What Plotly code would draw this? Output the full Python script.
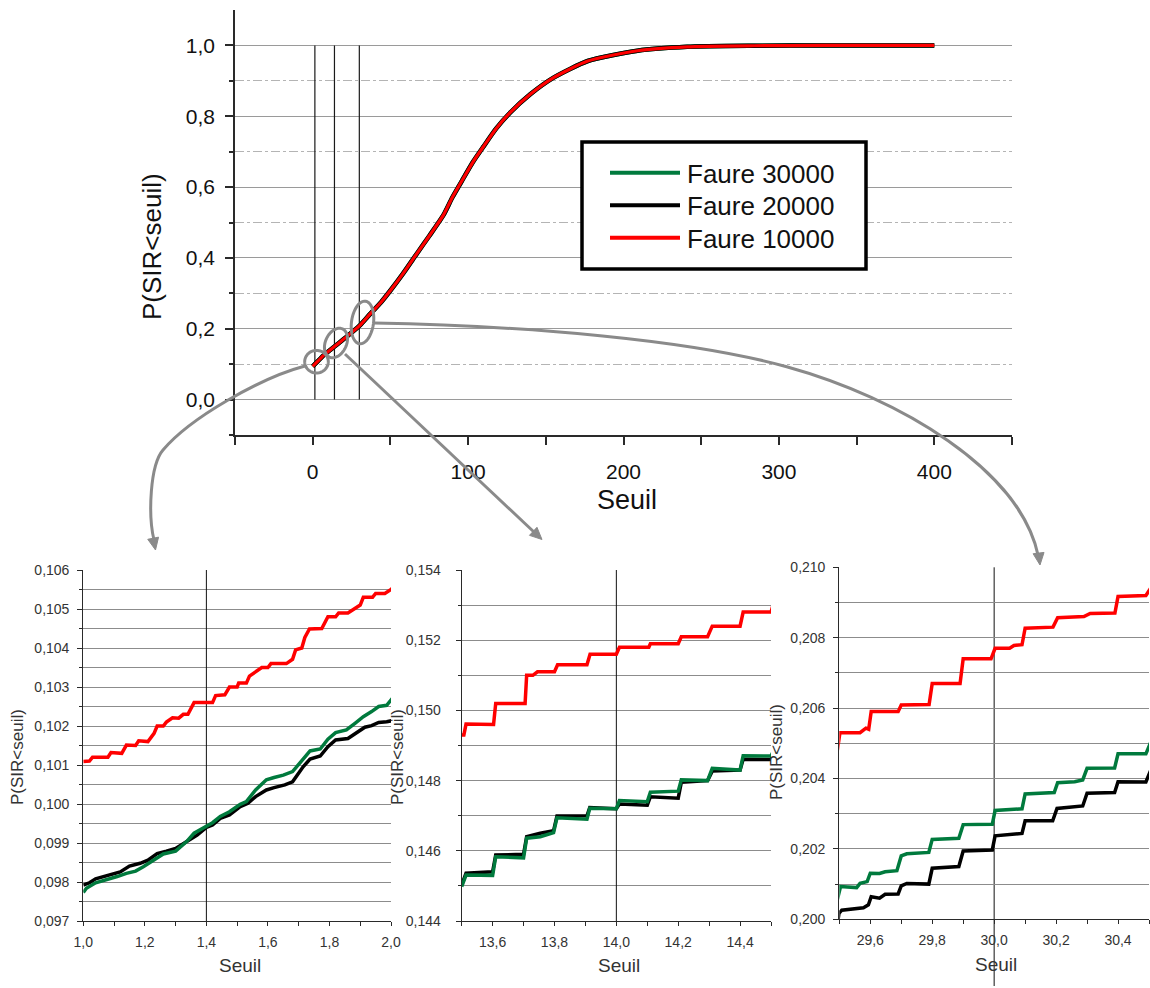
import math
import plotly.graph_objects as go

W, H = 1150, 988
FONT = "Liberation Sans, Arial, sans-serif"

# ---------------- data ----------------
series_names = ["Faure 30000", "Faure 20000", "Faure 10000"]
series_colors = ["#007A3D", "#000000", "#FF0000"]

# main chart (the three curves overlap at this scale)
main_seuil = [0, 1.4, 7, 14, 22, 30, 37, 44, 50, 58, 67, 75, 84, 90, 97, 103,
              110, 118, 127, 140, 155, 177, 209, 241, 284, 330, 400]
main_p = [0.094, 0.100, 0.125, 0.150, 0.178, 0.208, 0.242, 0.275, 0.308, 0.355,
          0.412, 0.462, 0.520, 0.572, 0.625, 0.670, 0.715, 0.765, 0.810, 0.862,
          0.909, 0.956, 0.985, 0.996, 0.999, 1.000, 1.000]
main_vlines = [1.4, 14.0, 30.0]

# zoom panel 1 : Seuil 1.0 - 2.0
p1_red = [(1.0, 0.10109), (1.02, 0.1011), (1.03, 0.1012), (1.08, 0.1012), (1.09, 0.10132),
          (1.125, 0.1013), (1.14, 0.10151), (1.17, 0.1015), (1.18, 0.10162), (1.21, 0.1016),
          (1.23, 0.10181), (1.24, 0.1020), (1.26, 0.1020), (1.27, 0.1021), (1.29, 0.10221),
          (1.31, 0.1022), (1.325, 0.1023), (1.34, 0.1023), (1.36, 0.1026), (1.42, 0.1026),
          (1.43, 0.10278), (1.46, 0.1028), (1.475, 0.1030), (1.50, 0.1030), (1.505, 0.1031),
          (1.53, 0.1031), (1.54, 0.10328), (1.56, 0.1034), (1.58, 0.1035), (1.60, 0.1035),
          (1.61, 0.1036), (1.66, 0.1036), (1.68, 0.10371), (1.69, 0.10395), (1.71, 0.1040),
          (1.72, 0.10427), (1.735, 0.10449), (1.775, 0.1045), (1.795, 0.1048), (1.82, 0.1048),
          (1.83, 0.1049), (1.86, 0.1049), (1.88, 0.1050), (1.90, 0.1051), (1.91, 0.1053),
          (1.94, 0.1053), (1.95, 0.1054), (1.98, 0.1054), (2.0, 0.1055), (2.013, 0.1056)]
p1_green = [(1.0, 0.09773), (1.01, 0.09784), (1.04, 0.09798), (1.075, 0.09805), (1.11, 0.09814),
            (1.14, 0.09822), (1.17, 0.09828), (1.195, 0.09839), (1.23, 0.09858), (1.26, 0.09872),
            (1.30, 0.09879), (1.335, 0.09903), (1.36, 0.09925), (1.39, 0.09938), (1.42, 0.09952),
            (1.445, 0.09968), (1.475, 0.09980), (1.51, 0.09999), (1.53, 0.10006), (1.56, 0.10036),
            (1.595, 0.10062), (1.62, 0.10068), (1.65, 0.10074), (1.68, 0.10083), (1.715, 0.10117),
            (1.737, 0.10136), (1.77, 0.10141), (1.795, 0.10166), (1.82, 0.10183), (1.855, 0.10190),
            (1.883, 0.10207), (1.91, 0.10224), (1.937, 0.10237), (1.96, 0.10250), (1.986, 0.10253),
            (2.013, 0.10279)]
p1_black = [(1.0, 0.09792), (1.02, 0.09798), (1.04, 0.09808), (1.085, 0.09818), (1.12, 0.09826),
            (1.15, 0.09841), (1.185, 0.09848), (1.21, 0.09856), (1.24, 0.09873), (1.27, 0.09879),
            (1.30, 0.09886), (1.335, 0.09903), (1.37, 0.09920), (1.40, 0.09940), (1.42, 0.09946),
            (1.445, 0.09963), (1.475, 0.09972), (1.51, 0.09993), (1.535, 0.10002), (1.56, 0.10019),
            (1.595, 0.10036), (1.62, 0.10042), (1.655, 0.10049), (1.68, 0.10057), (1.715, 0.10096),
            (1.737, 0.10115), (1.77, 0.10123), (1.795, 0.10147), (1.82, 0.10164), (1.86, 0.10168),
            (1.888, 0.10183), (1.915, 0.10197), (1.937, 0.10201), (1.96, 0.10209), (1.986, 0.10211),
            (2.013, 0.10215)]

# zoom panel 2 : Seuil 13.5 - 14.5
p2_red = [(13.5, 0.1493), (13.507, 0.1493), (13.514, 0.14961), (13.603, 0.1496), (13.61, 0.1502),
          (13.705, 0.1502), (13.71, 0.1510), (13.73, 0.1510), (13.745, 0.1511), (13.80, 0.1511),
          (13.81, 0.1513), (13.905, 0.1513), (13.915, 0.1516), (14.0, 0.1516), (14.01, 0.1518),
          (14.105, 0.1518), (14.11, 0.1519), (14.2, 0.1519), (14.21, 0.1521), (14.295, 0.1521),
          (14.31, 0.1524), (14.40, 0.1524), (14.41, 0.1528), (14.5, 0.1528), (14.513, 0.1532)]
p2_green = [(13.5, 0.14498), (13.514, 0.14531), (13.6, 0.1453), (13.61, 0.14583), (13.70, 0.1458),
            (13.71, 0.14636), (13.754, 0.1464), (13.797, 0.14652), (13.808, 0.14694), (13.905, 0.1469),
            (13.914, 0.14721), (14.0, 0.1472), (14.01, 0.14743), (14.1, 0.1474), (14.11, 0.14767),
            (14.2, 0.1477), (14.21, 0.14802), (14.295, 0.1480), (14.31, 0.14835), (14.4, 0.1483),
            (14.41, 0.14871), (14.5, 0.1487), (14.513, 0.14894)]
p2_black = [(13.5, 0.14503), (13.514, 0.14536), (13.6, 0.1454), (13.61, 0.14588), (13.70, 0.1459),
            (13.71, 0.1464), (13.754, 0.1465), (13.797, 0.14657), (13.808, 0.14699), (13.905, 0.1470),
            (13.914, 0.14723), (14.0, 0.1472), (14.01, 0.14733), (14.1, 0.1473), (14.11, 0.14754),
            (14.2, 0.1475), (14.21, 0.14795), (14.295, 0.1480), (14.31, 0.14827), (14.4, 0.1483),
            (14.41, 0.14861), (14.5, 0.1486), (14.513, 0.14882)]

# zoom panel 3 : Seuil 29.5 - 30.5
p3_red = [(29.494, 0.20481), (29.502, 0.20530), (29.567, 0.2053), (29.586, 0.20543), (29.595, 0.2054),
          (29.603, 0.2059), (29.69, 0.2059), (29.70, 0.20609), (29.79, 0.2061), (29.80, 0.20670),
          (29.89, 0.2067), (29.90, 0.20740), (29.99, 0.2074), (30.003, 0.20770), (30.05, 0.2077),
          (30.064, 0.20778), (30.09, 0.2078), (30.10, 0.20827), (30.19, 0.2083), (30.205, 0.20857),
          (30.29, 0.2086), (30.31, 0.20869), (30.39, 0.2087), (30.40, 0.20917), (30.49, 0.2092),
          (30.505, 0.20940)]
p3_green = [(29.494, 0.20057), (29.504, 0.20093), (29.556, 0.2009), (29.567, 0.20102), (29.59, 0.20107),
            (29.60, 0.20131), (29.63, 0.2013), (29.648, 0.20135), (29.686, 0.20138), (29.70, 0.20180),
            (29.718, 0.20186), (29.789, 0.2019), (29.80, 0.20227), (29.886, 0.2023), (29.90, 0.20269),
            (29.994, 0.2027), (30.003, 0.20309), (30.043, 0.20311), (30.09, 0.20314), (30.10, 0.20356),
            (30.194, 0.2036), (30.205, 0.20388), (30.26, 0.20391), (30.286, 0.20396), (30.30, 0.20429),
            (30.389, 0.2043), (30.40, 0.20470), (30.49, 0.2047), (30.505, 0.20502)]
p3_black = [(29.494, 0.19987), (29.499, 0.20017), (29.508, 0.20026), (29.556, 0.2003), (29.578, 0.20033),
            (29.594, 0.20041), (29.603, 0.20064), (29.63, 0.2006), (29.648, 0.20071), (29.69, 0.20072),
            (29.70, 0.20095), (29.718, 0.20102), (29.789, 0.2010), (29.80, 0.20145), (29.886, 0.2015),
            (29.90, 0.20194), (29.994, 0.20197), (30.003, 0.20237), (30.043, 0.2024), (30.09, 0.20244),
            (30.10, 0.20280), (30.189, 0.2028), (30.203, 0.20315), (30.254, 0.2032), (30.286, 0.20322),
            (30.30, 0.20358), (30.389, 0.2036), (30.40, 0.20391), (30.49, 0.2039), (30.505, 0.20422)]

panel_xrange = [[1.0, 2.0], [13.5, 14.5], [29.5, 30.5]]
panel_yrange = [[0.097, 0.106], [0.144, 0.154], [0.200, 0.210]]
panel_ydtick = [0.001, 0.002, 0.002]
panel_vline = [1.4, 14.0, 30.0]

# ---------------- helpers (pixel -> paper) ----------------
def px(x):
    return x / W


def py(y):
    return 1 - y / H


def pt(x, y):
    return f"{px(x):.5f},{py(y):.5f}"


def ellipse_path(cx, cy, rx, ry, ang):
    a = math.radians(ang)
    pts = []
    for i in range(60):
        t = 2 * math.pi * i / 60
        ex, ey = rx * math.cos(t), ry * math.sin(t)
        x = cx + ex * math.cos(a) - ey * math.sin(a)
        y = cy + ex * math.sin(a) + ey * math.cos(a)
        pts.append(pt(x, y))
    return "M" + " L".join(pts) + " Z"


def arrow_head(tx, ty, dx, dy, length=12, half=5.5):
    n = math.hypot(dx, dy)
    ux, uy = dx / n, dy / n
    bx, by = tx - ux * length, ty - uy * length
    p1 = (bx - uy * half, by + ux * half)
    p2 = (bx + uy * half, by - ux * half)
    return f"M{pt(tx, ty)} L{pt(*p1)} L{pt(*p2)} Z"


GREY = "#8a8a8a"
fig = go.Figure()

# ---------------- main chart traces ----------------
main_widths = [4.5, 4.5, 3.2]
for name, col, w in zip(series_names, series_colors, main_widths):
    fig.add_trace(go.Scatter(x=main_seuil, y=main_p, mode="lines", name=name,
                             line=dict(color=col, width=w, shape="spline", smoothing=0.6),
                             xaxis="x", yaxis="y", showlegend=False))

# ---------------- panels ----------------
panels = [(p1_green, p1_black, p1_red), (p2_green, p2_black, p2_red), (p3_green, p3_black, p3_red)]
for i, (g, b, r) in enumerate(panels):
    ax = str(i + 2)
    for data, col in ((b, series_colors[1]), (g, series_colors[0]), (r, series_colors[2])):
        fig.add_trace(go.Scatter(x=[d[0] for d in data], y=[d[1] for d in data], mode="lines",
                                 line=dict(color=col, width=3.5), showlegend=False,
                                 xaxis="x" + ax, yaxis="y" + ax))

# ---------------- axes ----------------
axis_col = "#2a2a2a"
layout = dict(
    width=W, height=H, autosize=False,
    margin=dict(l=0, r=0, t=0, b=0, pad=0),
    paper_bgcolor="white", plot_bgcolor="white",
    separators=", ",
    font=dict(family=FONT, color="#111"),
    showlegend=False,
)

layout["xaxis"] = dict(
    domain=[px(235), px(1012)], range=[-50, 450], anchor="y", automargin=False,
    showline=True, linecolor=axis_col, linewidth=1.5, mirror=False,
    ticks="outside", ticklen=8, tickwidth=1.5, tickcolor=axis_col,
    tickvals=[0, 100, 200, 300, 400], ticklabelstandoff=9,
    tickfont=dict(size=21, color="#111"),
    minor=dict(tickvals=[-50, 50, 150, 250, 350, 450], ticks="outside", ticklen=8,
               tickwidth=1.5, tickcolor=axis_col, showgrid=False),
    showgrid=False, zeroline=False,
)
layout["yaxis"] = dict(
    domain=[py(435), py(10)], range=[-0.1, 1.1], anchor="x", automargin=False,
    showline=True, linecolor=axis_col, linewidth=1.5,
    ticks="outside", ticklen=8, tickwidth=1.5, tickcolor=axis_col,
    tickvals=[0, 0.2, 0.4, 0.6, 0.8, 1.0], tickformat=".1f", ticklabelstandoff=6,
    tickfont=dict(size=21, color="#111"),
    showgrid=True, gridcolor="#9a9a9a", gridwidth=1.2,
    minor=dict(tickvals=[-0.1, 0.1, 0.3, 0.5, 0.7, 0.9], ticks="outside", ticklen=4,
               tickcolor=axis_col, showgrid=True, gridcolor="#b4b4b4", griddash="dashdot",
               gridwidth=1.2),
    zeroline=False,
)

panel_px = [(83.3, 391.0, 570.0, 921.0), (461.7, 771.0, 570.0, 921.0), (839.3, 1149.0, 567.3, 919.3)]
panel_ystandoff = [5, 12, 5]
for i in range(3):
    ax = str(i + 2)
    x0, x1, y0, y1 = panel_px[i]
    layout["xaxis" + ax] = dict(
        domain=[px(x0), px(x1)], range=panel_xrange[i], anchor="y" + ax, automargin=False,
        showline=True, linecolor=axis_col, linewidth=1.2,
        ticks="outside", ticklen=4, tickwidth=1, tickcolor=axis_col,
        dtick=0.2, tick0=0, tickformat=".1f", ticklabelstandoff=4,
        tickfont=dict(size=14, color="#333"),
        minor=dict(dtick=0.1, tick0=0, ticks="outside", ticklen=4, tickcolor=axis_col, showgrid=False),
        showgrid=False, zeroline=False,
    )
    layout["yaxis" + ax] = dict(
        domain=[py(y1), py(y0)], range=panel_yrange[i], anchor="x" + ax, automargin=False,
        showline=True, linecolor=axis_col, linewidth=1.2,
        ticks="outside", ticklen=5, tickwidth=1, tickcolor=axis_col,
        dtick=panel_ydtick[i], tick0=0, tickformat=".3f", ticklabelstandoff=panel_ystandoff[i],
        tickfont=dict(size=14, color="#333"),
        showgrid=True, gridcolor="#8c8c8c", gridwidth=1,
        minor=dict(dtick=panel_ydtick[i] / 2, tick0=0, ticks="outside", ticklen=3,
                   tickcolor=axis_col, showgrid=True, gridcolor="#8c8c8c", gridwidth=1),
        zeroline=False,
    )

fig.update_layout(**layout)

# ---------------- shapes ----------------
shapes = []
for v in main_vlines:
    shapes.append(dict(type="line", xref="x", yref="y", x0=v, x1=v, y0=0, y1=1.0,
                       line=dict(color="#1a1a1a", width=1.2), layer="between"))
for i, v in enumerate(panel_vline):
    ax = str(i + 2)
    if i == 2:
        shapes.append(dict(type="line", xref="x" + ax, yref="paper", x0=v, x1=v,
                           y0=py(986), y1=py(panel_px[i][2]),
                           line=dict(color="#111", width=1), layer="between"))
    else:
        shapes.append(dict(type="line", xref="x" + ax, yref="y" + ax, x0=v, x1=v,
                           y0=panel_yrange[i][0], y1=panel_yrange[i][1],
                           line=dict(color="#111", width=1), layer="between"))

# legend box (manual)
shapes.append(dict(type="rect", xref="paper", yref="paper", x0=px(582), x1=px(866),
                   y0=py(269), y1=py(142), fillcolor="white",
                   line=dict(color="black", width=3.5), layer="above"))
leg_y = [172.7, 205.3, 237.7]
for name, col, yy in zip(series_names, series_colors, leg_y):
    shapes.append(dict(type="line", xref="paper", yref="paper", x0=px(610), x1=px(680),
                       y0=py(yy), y1=py(yy), line=dict(color=col, width=4), layer="above"))

# zoom markers: ellipses, connectors, arrow heads
gline = dict(color=GREY, width=3)
shapes.append(dict(type="path", xref="paper", yref="paper", path=ellipse_path(316.5, 361.7, 11.8, 11.3, 0), line=gline, layer="above"))
shapes.append(dict(type="path", xref="paper", yref="paper", path=ellipse_path(336.0, 343.0, 10.5, 15.5, 25), line=gline, layer="above"))
shapes.append(dict(type="path", xref="paper", yref="paper", path=ellipse_path(362.5, 322.5, 11.0, 21.5, 8), line=gline, layer="above"))

curve1 = f"M{pt(305, 366)} C{pt(260, 378)} {pt(190, 418)} {pt(163, 450)} C{pt(150, 465)} {pt(148, 515)} {pt(154, 540)}"
curve2 = f"M{pt(345, 354)} L{pt(535, 533)}"
curve3 = f"M{pt(374, 323)} C{pt(530, 326)} {pt(690, 340)} {pt(786.7, 366.7)} C{pt(900, 398)} {pt(1020, 470)} {pt(1038, 555)}"
for c in (curve1, curve2, curve3):
    shapes.append(dict(type="path", xref="paper", yref="paper", path=c, line=gline, layer="above"))
shapes.append(dict(type="path", xref="paper", yref="paper", path=arrow_head(155.5, 550, 0.2, 1),
                   fillcolor=GREY, line=dict(color=GREY, width=1), layer="above"))
shapes.append(dict(type="path", xref="paper", yref="paper", path=arrow_head(542, 539.5, 0.73, 0.68),
                   fillcolor=GREY, line=dict(color=GREY, width=1), layer="above"))
shapes.append(dict(type="path", xref="paper", yref="paper", path=arrow_head(1040, 565, 0.12, 1),
                   fillcolor=GREY, line=dict(color=GREY, width=1), layer="above"))

fig.update_layout(shapes=shapes)

# ---------------- text ----------------
ann = []
for name, yy in zip(series_names, leg_y):
    ann.append(dict(text=name, xref="paper", yref="paper", x=px(685), y=py(yy + 1),
                    xanchor="left", yanchor="middle", showarrow=False,
                    font=dict(size=26, color="#111", family=FONT)))
ann.append(dict(text="Seuil", xref="paper", yref="paper", x=px(627), y=py(500),
                xanchor="center", yanchor="middle", showarrow=False,
                font=dict(size=27, color="#111", family=FONT)))
ann.append(dict(text="P(SIR&lt;seuil)", xref="paper", yref="paper", x=px(152), y=py(247),
                xanchor="center", yanchor="middle", showarrow=False, textangle=-90,
                font=dict(size=26, color="#111", family=FONT)))
panel_titles_y = [(17, 757), (397, 757), (776, 752)]
panel_titles_x = [(240, 965), (619, 965), (996, 964)]
for (tx, ty) in panel_titles_y:
    ann.append(dict(text="P(SIR&lt;seuil)", xref="paper", yref="paper", x=px(tx), y=py(ty),
                    xanchor="center", yanchor="middle", showarrow=False, textangle=-90,
                    font=dict(size=17, color="#333", family=FONT)))
for (tx, ty) in panel_titles_x:
    ann.append(dict(text="Seuil", xref="paper", yref="paper", x=px(tx), y=py(ty),
                    xanchor="center", yanchor="middle", showarrow=False,
                    font=dict(size=19, color="#333", family=FONT)))
fig.update_layout(annotations=ann)

fig.write_html("out.html", config={"displayModeBar": False},
               post_script="document.body.style.margin='0';document.body.style.overflow='hidden';")
